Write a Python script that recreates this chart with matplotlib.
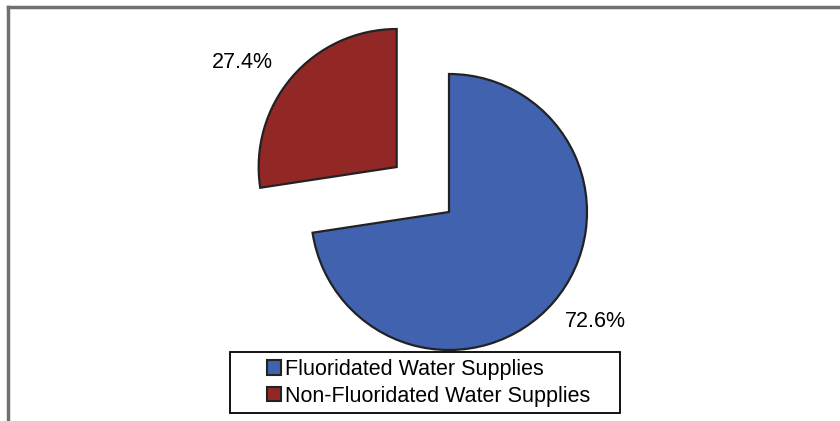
import numpy as np
import matplotlib.pyplot as plt
from matplotlib.patches import Rectangle

plt.rcParams['font.family'] = ['Liberation Sans', 'DejaVu Sans']

labels = ["Fluoridated Water Supplies", "Non-Fluoridated Water Supplies"]
shares = [72.6, 27.4]
colors = ["#4162AE", "#922826"]
explode = [0, 0.5]

fig = plt.figure(figsize=(8.4, 4.21), dpi=100)
ax = fig.add_axes([0, 0, 1, 1])

wedges, texts, autotexts = ax.pie(
    shares, explode=explode, colors=colors, startangle=90, counterclock=False,
    autopct="%.1f%%", pctdistance=1.32, radius=1,
    wedgeprops=dict(edgecolor="#222222", linewidth=1.6),
    textprops=dict(fontsize=15.5, color="black"))

# nudge the percentage labels the way Excel places them
label_dist = [1.325, 1.35]
label_shift = [3.7, 6.6]  # degrees, counter-clockwise
for w, t, d, s in zip(wedges, autotexts, label_dist, label_shift):
    ang = np.deg2rad((w.theta1 + w.theta2) / 2 + s)
    cx0, cy0 = w.center
    t.set_position((cx0 + d * np.cos(ang), cy0 + d * np.sin(ang)))

# map data units to pixels: radius ~138 px, centre at (449, 212) px from top-left
r = 138.0
cx, cy = 449.0, 421 - 212.0
ax.set_xlim(-cx / r, (840 - cx) / r)
ax.set_ylim(-cy / r, (421 - cy) / r)
ax.set_aspect("equal")
ax.axis("off")

# outer frame: top and left only
fig.add_artist(plt.Line2D([8 / 840, 1], [1 - 7 / 421, 1 - 7 / 421],
                          color="#707070", linewidth=2.5, transform=fig.transFigure))
fig.add_artist(plt.Line2D([8 / 840, 8 / 840], [0, 1 - 7 / 421],
                          color="#707070", linewidth=2.5, transform=fig.transFigure))

# legend box
fig.add_artist(Rectangle((230 / 840, 1 - 413 / 421), 390 / 840, 61 / 421,
                         transform=fig.transFigure, facecolor="white",
                         edgecolor="black", linewidth=1.3, zorder=3))
leg = fig.legend(wedges, labels, loc="upper left",
                 bbox_to_anchor=(252 / 840, 1 - 344 / 421), frameon=False,
                 fontsize=15.5, handlelength=0.65, handleheight=0.65,
                 handletextpad=0.2, labelspacing=0.26, borderpad=0.2)
leg.set_zorder(4)
for h in leg.legend_handles:
    h.set_linewidth(1.5)
    h.set_edgecolor("#222222")

fig.savefig("out.png", dpi=100)
